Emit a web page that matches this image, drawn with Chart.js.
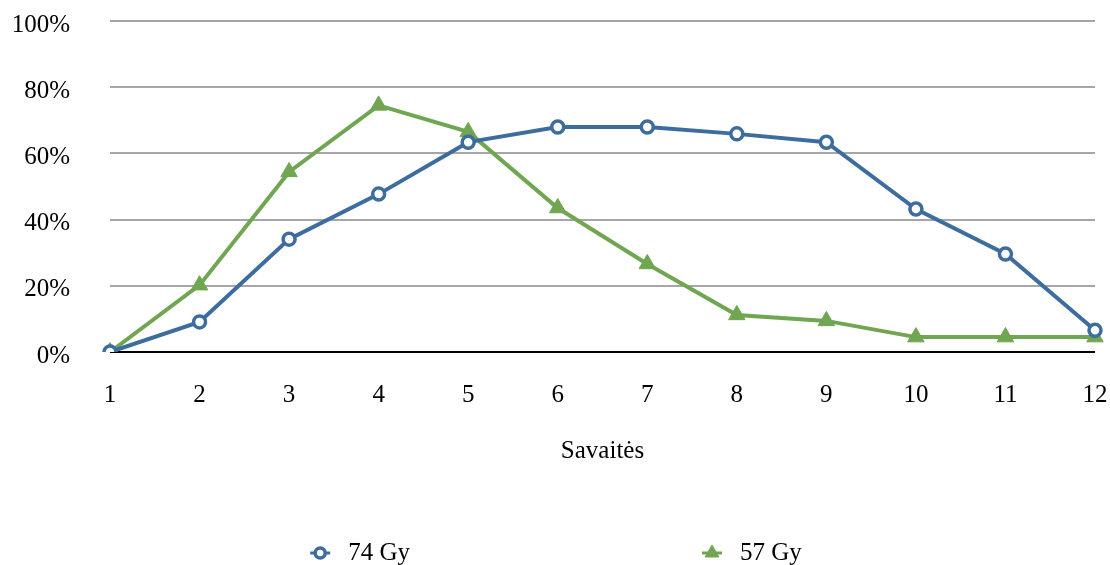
<!DOCTYPE html>
<html>
<head>
<meta charset="utf-8">
<script src="https://cdn.jsdelivr.net/npm/chart.js@4"></script>
<style>
    html, body { margin: 0; padding: 0; background: #fff; }
    #wrap { width: 1110px; height: 565px; }
</style>
</head>
<body>
<div id="wrap"><canvas id="chart" width="1110" height="565"></canvas></div>
<script>
const weeks = ["1", "2", "3", "4", "5", "6", "7", "8", "9", "10", "11", "12"];
const gy74 = [0, 9.1, 34.1, 47.7, 63.4, 68, 68, 65.9, 63.4, 43.2, 29.6, 6.6];
const gy57 = [0, 20.2, 54.4, 74.5, 66.5, 43.5, 26.6, 11.2, 9.4, 4.5, 4.5, 4.5];
const seriesNames = ["74 Gy", "57 Gy"];

const blue = "#3d6d9e";
const green = "#70a651";
const font = "'Liberation Serif', 'Times New Roman', serif";

// legend drawn by hand so the two entries can sit far apart
const bottomLegend = {
    id: "bottomLegend",
    afterDraw(chart) {
        var ctx = chart.ctx;
        var y = 553;
        var gap = 290;
        ctx.save();
        ctx.font = "25px " + font;
        ctx.textBaseline = "middle";
        var items = chart.data.datasets.map(ds => ({
            ds: ds,
            w: 40 + ctx.measureText(ds.label).width
        }));
        var total = items.reduce((s, it) => s + it.w, 0) + gap * (items.length - 1);
        var x = (chart.width - total) / 2;
        items.forEach(it => {
            var ds = it.ds;
            var cx = x + 12;
            ctx.strokeStyle = ds.borderColor;
            ctx.lineWidth = 3;
            ctx.beginPath();
            ctx.moveTo(cx - 10, y);
            ctx.lineTo(cx + 10, y);
            ctx.stroke();
            ctx.fillStyle = ds.pointBackgroundColor;
            ctx.strokeStyle = ds.pointBorderColor;
            ctx.lineWidth = ds.pointBorderWidth;
            Chart.helpers.drawPoint(ctx, {
                pointStyle: ds.pointStyle,
                radius: ds.pointStyle == "triangle" ? 8 : 5,
                borderWidth: ds.pointBorderWidth
            }, cx, y);
            ctx.fillStyle = "#000";
            ctx.textAlign = "left";
            ctx.fillText(ds.label, x + 40, y);
            x += it.w + gap;
        });
        ctx.restore();
    }
};

var ctx = document.getElementById("chart").getContext("2d");
var chart = new Chart(ctx, {
    type: "line",
    data: {
        labels: weeks,
        datasets: [{
            label: seriesNames[0],
            data: gy74,
            borderColor: blue,
            borderWidth: 4,
            pointStyle: "circle",
            pointRadius: 6,
            pointBackgroundColor: "#fff",
            pointBorderColor: blue,
            pointBorderWidth: 3.5,
            tension: 0
        }, {
            label: seriesNames[1],
            data: gy57,
            borderColor: green,
            borderWidth: 4,
            pointStyle: "triangle",
            pointRadius: 9.5,
            pointBackgroundColor: green,
            pointBorderColor: green,
            pointBorderWidth: 1,
            tension: 0
        }]
    },
    options: {
        responsive: false,
        animation: false,
        layout: { padding: { top: 21, right: 15, left: 0, bottom: 90 } },
        plugins: {
            legend: { display: false },
            tooltip: { enabled: false }
        },
        scales: {
            x: {
                offset: false,
                grid: { display: false },
                border: { display: false },
                ticks: { color: "#000", font: { family: font, size: 25 }, padding: 20, maxRotation: 0 },
                title: {
                    display: true,
                    text: "Savaitės",
                    color: "#000",
                    font: { family: font, size: 25 },
                    padding: { top: 0, bottom: 9 }
                },
                afterFit: function(scale) {
                    scale.height = 123;
                    scale.paddingLeft = 0;
                    scale.paddingRight = 0;
                }
            },
            y: {
                min: 0,
                max: 100,
                grid: {
                    drawTicks: false,
                    lineWidth: 2,
                    color: c => c.tick && c.tick.value === 0 ? "#000" : "#a6a6a6"
                },
                border: { display: false },
                ticks: {
                    stepSize: 20,
                    padding: 40,
                    labelOffset: 4,
                    color: "#000",
                    font: { family: font, size: 25 },
                    callback: v => v + "%"
                },
                afterFit: function(scale) {
                    scale.width = 110;
                    scale.paddingTop = 0;
                    scale.paddingBottom = 0;
                }
            }
        }
    },
    plugins: [bottomLegend]
});
</script>
</body>
</html>
